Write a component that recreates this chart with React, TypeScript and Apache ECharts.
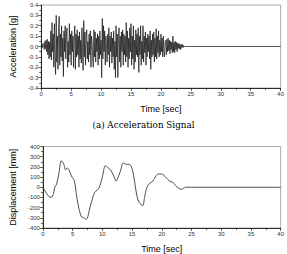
import React, { useEffect, useRef } from "react";
import * as echarts from "echarts";

const accelStep = 0.1;
const accelValues: number[] = [
  0, 0.02, -0.01, 0.03, 0.01, -0.03, 0.05, -0.02, 0.06, -0.05,
  0.07, -0.08, 0.05, -0.12, 0.04, -0.1, 0.15, -0.13, 0.23, -0.05,
  0.12, -0.2, 0.22, -0.1, -0.27, 0.3, -0.15, 0.1, -0.22, 0.18,
  0.29, -0.18, 0.12, -0.1, 0.2, -0.14, 0.08, -0.29, 0.15, -0.05,
  0.2, -0.12, 0.1, 0.18, -0.2, 0.05, -0.15, 0.22, -0.08, 0.12,
  -0.18, 0.15, -0.05, 0.1, -0.2, 0.08, 0.2, -0.22, 0.12, -0.1,
  0.16, -0.08, 0.1, -0.2, 0.14, -0.12, 0.06, -0.16, 0.18, -0.05,
  -0.23, 0.25, -0.1, 0.14, -0.18, 0.08, 0.16, -0.12, 0.05, -0.15,
  0.12, -0.08, 0.15, -0.2, 0.1, 0.05, -0.12, -0.2, 0.16, -0.1,
  0.14, -0.15, 0.08, -0.05, 0.12, -0.18, 0.1, -0.12, 0.15, -0.08,
  0.06, -0.3, 0.27, -0.12, 0.2, -0.05, 0.15, -0.18, 0.1, 0.02,
  -0.15, 0.12, -0.08, 0.18, -0.2, 0.1, -0.05, 0.14, -0.16, 0.08,
  -0.1, 0.15, -0.22, 0.05, -0.3, 0.2, -0.1, 0.12, -0.3, 0.08,
  0.18, -0.15, 0.1, -0.2, 0.14, -0.05, 0.16, -0.18, 0.12, -0.08,
  0.1, -0.15, 0.23, -0.1, 0.15, -0.2, 0.08, -0.12, 0.18, -0.05,
  0.22, -0.18, 0.1, -0.12, 0.2, -0.22, 0.06, -0.15, 0.16, -0.08,
  0.12, -0.1, 0.18, -0.25, 0.1, -0.08, 0.2, -0.18, 0.05, -0.12,
  0.2, -0.15, 0.1, -0.06, 0.14, -0.18, 0.08, -0.1, 0.12, -0.05,
  0.1, -0.12, 0.15, -0.22, 0.06, -0.1, 0.12, -0.08, 0.14, -0.15,
  0.08, -0.1, 0.17, -0.12, 0.1, -0.06, 0.15, -0.1, 0.06, -0.08,
  0.12, -0.05, 0.08, -0.1, 0.1, -0.06, -0.1, 0.05, 0.06, -0.08,
  0.07, -0.05, 0.08, -0.04, 0.06, -0.07, 0.05, -0.03, 0.04, -0.06,
  0.1, -0.05, 0.04, -0.06, 0.05, -0.03, 0.04, -0.05, 0.03, -0.02,
  0.03, -0.02, 0.02, -0.03, 0.02, -0.01, 0.02, -0.01, 0.01, 0,
  0,
];
const accelTailTime = 40;

const dispTimes: number[] = [
  0, 0.5, 1.0, 1.4, 1.8, 2.0, 2.3, 2.7, 3.1, 3.5, 3.8, 4.1, 4.4, 4.8, 5.3,
  5.7, 6.1, 6.5, 6.9, 7.2, 7.5, 7.9, 8.3, 8.7, 9.1, 9.5, 10.0, 10.5, 11.0,
  11.5, 12.0, 12.3, 12.8, 13.1, 13.5, 14.0, 14.5, 14.9, 15.3, 15.8, 16.2,
  16.8, 17.1, 17.5, 18.0, 18.5, 19.0, 19.4, 19.9, 20.3, 20.8, 21.3, 21.8,
  22.3, 22.8, 23.3, 23.7, 24.0, 40,
];
const dispValues: number[] = [
  0, -50, -90, -100, -60, 0, 30, 140, 260, 230, 170, 190, 170, 110, 60,
  -100, -220, -290, -300, -315, -300, -200, -120, -50, -30, 0, 100, 210, 190,
  160, 100, 60, 120, 170, 240, 225, 225, 200, 100, -80, -150,
  -180, -100, 0, 40, 60, 110, 130, 130, 120, 90, 60, 50,
  20, -10, -20, -10, 0, 0,
];

const xTicks = { min: 0, max: 40, interval: 5 };
const accelAxis = { min: -0.4, max: 0.4, interval: 0.1 };
const dispAxis = { min: -400, max: 400, interval: 100 };

const sans = "Liberation Sans";
const serif = "DejaVu Serif";

export default function App() {
  const ref = useRef<HTMLDivElement>(null);
  useEffect(() => {
    if (!ref.current) return;
    const chart = echarts.init(ref.current, undefined, { renderer: "svg" });
    const accelData = accelValues.map((v, i) => [+(i * accelStep).toFixed(2), v]);
    accelData.push([accelTailTime, 0]);
    const dispData = dispTimes.map((t, i) => [t, dispValues[i]]);

    const xAxisBase = (gridIndex: number) => ({
      type: "value",
      gridIndex,
      min: xTicks.min,
      max: xTicks.max,
      interval: xTicks.interval,
      name: "Time [sec]",
      nameLocation: "middle",
      nameGap: 16,
      nameTextStyle: { fontFamily: sans, fontSize: 9, fontWeight: "normal", color: "#000" },
      axisLine: { show: true, onZero: false, lineStyle: { color: "#000", width: 0.8 } },
      axisTick: { show: true, length: 3, lineStyle: { color: "#000", width: 0.6 } },
      minorTick: { show: true, splitNumber: 2, length: 2, lineStyle: { color: "#000", width: 0.6 } },
      axisLabel: { fontFamily: sans, fontSize: 6, color: "#333", margin: 3 },
      splitLine: { show: false },
    });
    const yAxisBase = (gridIndex: number, name: string, ax: any, dec: number) => ({
      type: "value",
      gridIndex,
      min: ax.min,
      max: ax.max,
      interval: ax.interval,
      name,
      nameLocation: "middle",
      nameGap: 24,
      nameTextStyle: { fontFamily: sans, fontSize: 9, fontWeight: "normal", color: "#000" },
      axisLine: { show: true, onZero: false, lineStyle: { color: "#000", width: 0.8 } },
      axisTick: { show: true, length: 3, lineStyle: { color: "#000", width: 0.6 } },
      minorTick: { show: true, splitNumber: 2, length: 2, lineStyle: { color: "#000", width: 0.6 } },
      axisLabel: {
        fontFamily: sans,
        fontSize: 6,
        color: "#333",
        margin: 3,
        formatter: (v: number) => v.toFixed(dec),
      },
      splitLine: { show: false },
    });

    chart.setOption({
      animation: false,
      textStyle: { fontFamily: sans },
      grid: [
        { left: 33, top: 5, width: 249, height: 83, show: true, borderColor: "#999", borderWidth: 0.8 },
        { left: 33, top: 146.5, width: 249, height: 82.5, show: true, borderColor: "#999", borderWidth: 0.8 },
      ],
      xAxis: [xAxisBase(0), xAxisBase(1)],
      yAxis: [
        yAxisBase(0, "Acceleration [g]", accelAxis, 1),
        yAxisBase(1, "Displacement [mm]", dispAxis, 0),
      ],
      title: {
        text: "(a) Acceleration Signal",
        left: "center",
        top: 120,
        padding: 0,
        textStyle: { fontFamily: serif, fontSize: 8.8, fontWeight: "normal", color: "#000" },
      },
      series: [
        {
          type: "line",
          xAxisIndex: 0,
          yAxisIndex: 0,
          data: accelData,
          showSymbol: false,
          lineStyle: { color: "#111", width: 0.7 },
        },
        {
          type: "line",
          xAxisIndex: 1,
          yAxisIndex: 1,
          data: dispData,
          showSymbol: false,
          smooth: 0.3,
          lineStyle: { color: "#222", width: 0.8 },
        },
      ],
    });
    return () => chart.dispose();
  }, []);
  return <div ref={ref} style={{ width: 287, height: 254, position: "absolute", left: 0, top: 0 }} />;
}
